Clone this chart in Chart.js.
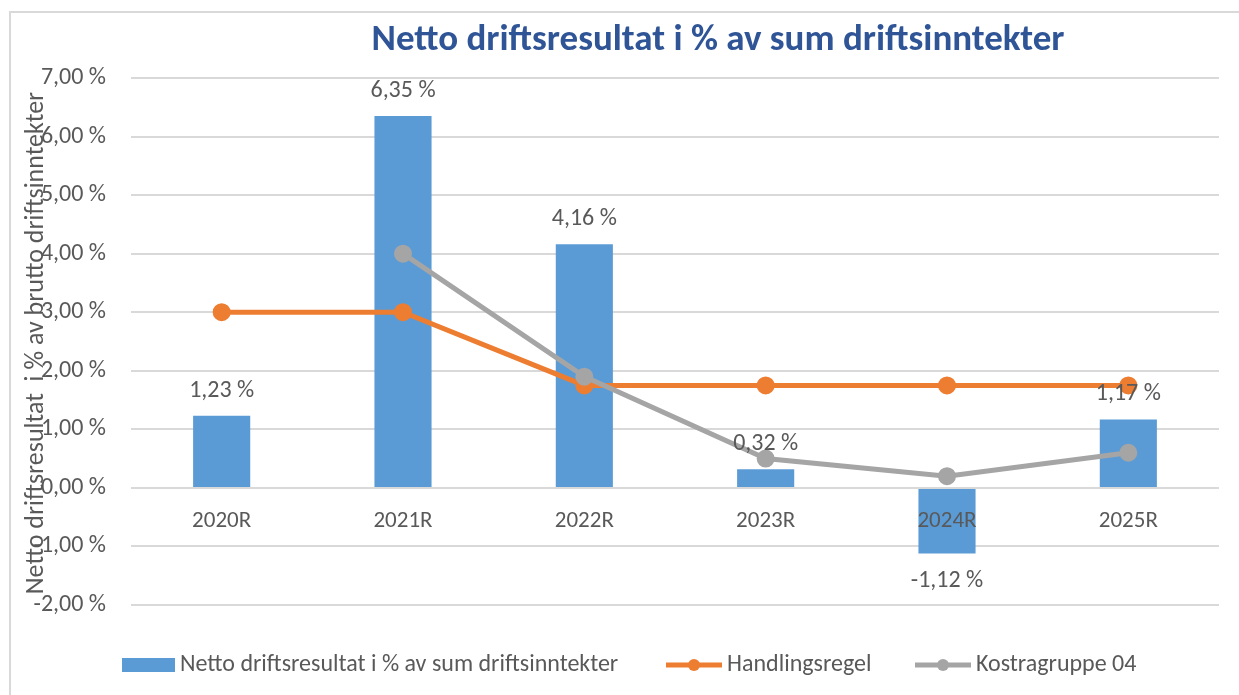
<!DOCTYPE html>
<html>
<head>
<meta charset="utf-8">
<script src="https://cdn.jsdelivr.net/npm/chart.js@4.4.1/dist/chart.umd.min.js"></script>
<style>
  html, body { margin: 0; padding: 0; background: #fff; }
  #wrap { width: 1239px; height: 695px; position: relative; }
</style>
</head>
<body>
<div id="wrap"><canvas id="chart" width="1239" height="695"></canvas></div>
<script>
const categories = ["2020R", "2021R", "2022R", "2023R", "2024R", "2025R"];
const nettoValues = [1.23, 6.35, 4.16, 0.32, -1.12, 1.17];
const handlingsregel = [3.0, 3.0, 1.75, 1.75, 1.75, 1.75];
const kostragruppe = [null, 4.0, 1.9, 0.5, 0.2, 0.6];
const yTicks = [7, 6, 5, 4, 3, 2, 1, 0, -1, -2];

const chartTitle = "Netto driftsresultat i % av sum driftsinntekter";
const yTitle = "Netto driftsresultat  i % av brutto driftsinntekter";
const seriesNames = ["Netto driftsresultat i % av sum driftsinntekter", "Handlingsregel", "Kostragruppe 04"];

const FONT = "Calibri, 'Open Sans', sans-serif";
const TEXT = "#595959";

function pct(v) {
  return v.toFixed(2).replace(".", ",") + " %";
}

// frame, title, axis title, bar labels, legend
const extras = {
  id: "extras",
  beforeDraw(chart) {
    const ctx = chart.ctx;
    ctx.save();
    ctx.strokeStyle = "#D9D9D9";
    ctx.lineWidth = 2;
    ctx.beginPath();
    ctx.moveTo(10, 695);
    ctx.lineTo(10, 12);
    ctx.lineTo(1239, 12);
    ctx.stroke();
    ctx.restore();
  },
  afterDatasetsDraw(chart) {
    const ctx = chart.ctx;
    const meta = chart.getDatasetMeta(0);
    ctx.save();
    ctx.font = "24px " + FONT;
    ctx.fillStyle = TEXT;
    ctx.textAlign = "center";
    ctx.textBaseline = "middle";
    meta.data.forEach((bar, i) => {
      const v = nettoValues[i];
      const y = v >= 0 ? bar.y - 25 : bar.y + 28;
      ctx.fillText(pct(v), bar.x, y);
    });
    ctx.restore();
  },
  afterDraw(chart) {
    const ctx = chart.ctx;
    ctx.save();
    // title
    ctx.font = "bold 37px " + FONT;
    ctx.fillStyle = "#2F5597";
    ctx.textAlign = "center";
    ctx.textBaseline = "middle";
    ctx.fillText(chartTitle, 718, 41);

    // y axis title
    ctx.save();
    ctx.translate(36, 343);
    ctx.rotate(-Math.PI / 2);
    ctx.font = "26px " + FONT;
    ctx.fillStyle = TEXT;
    ctx.fillText(yTitle, 0, 0);
    ctx.restore();

    // legend
    const ly = 665;
    ctx.font = "24px " + FONT;
    ctx.textAlign = "left";
    ctx.fillStyle = "#5B9BD5";
    ctx.fillRect(122, ly - 7, 53, 14);
    ctx.fillStyle = TEXT;
    ctx.fillText(seriesNames[0], 180, ly);

    const lineItem = (x0, color, label) => {
      ctx.strokeStyle = color;
      ctx.lineWidth = 5;
      ctx.beginPath();
      ctx.moveTo(x0, ly);
      ctx.lineTo(x0 + 56, ly);
      ctx.stroke();
      ctx.fillStyle = color;
      ctx.beginPath();
      ctx.arc(x0 + 28, ly, 6, 0, Math.PI * 2);
      ctx.fill();
      ctx.fillStyle = TEXT;
      ctx.fillText(label, x0 + 61, ly);
    };
    lineItem(666, "#ED7D31", seriesNames[1]);
    lineItem(915, "#A5A5A5", seriesNames[2]);
    ctx.restore();
  }
};

new Chart(document.getElementById("chart"), {
  data: {
    labels: categories,
    datasets: [
      {
        type: "bar",
        label: seriesNames[0],
        data: nettoValues,
        backgroundColor: "#5B9BD5",
        barPercentage: 0.63,
        categoryPercentage: 0.5,
        order: 3
      },
      {
        type: "line",
        label: seriesNames[1],
        data: handlingsregel,
        borderColor: "#ED7D31",
        backgroundColor: "#ED7D31",
        borderWidth: 5,
        pointRadius: 6.5,
        pointHoverRadius: 6.5,
        tension: 0,
        order: 2
      },
      {
        type: "line",
        label: seriesNames[2],
        data: kostragruppe,
        borderColor: "#A5A5A5",
        backgroundColor: "#A5A5A5",
        borderWidth: 5,
        pointRadius: 6.5,
        pointHoverRadius: 6.5,
        tension: 0,
        order: 1
      }
    ]
  },
  options: {
    responsive: false,
    animation: false,
    layout: {
      padding: { top: 78, right: 20, bottom: 90, left: 10 }
    },
    scales: {
      x: {
        position: { y: 0 },
        grid: { display: false, drawTicks: false },
        border: { display: false },
        ticks: {
          z: 1,
          color: TEXT,
          font: { size: 23, family: FONT },
          padding: 20,
          maxRotation: 0
        }
      },
      y: {
        min: -2,
        max: 7,
        afterBuildTicks(scale) {
          scale.ticks = yTicks.map(v => ({ value: v }));
        },
        afterFit(scale) {
          scale.width = 121;
        },
        grid: { color: "#D9D9D9", lineWidth: 2, drawTicks: false },
        border: { display: false },
        ticks: {
          color: TEXT,
          font: { size: 24, family: FONT },
          padding: 25,
          callback: v => pct(v)
        }
      }
    },
    plugins: {
      legend: { display: false },
      title: { display: false },
      tooltip: { enabled: false }
    }
  },
  plugins: [extras]
});
</script>
</body>
</html>
